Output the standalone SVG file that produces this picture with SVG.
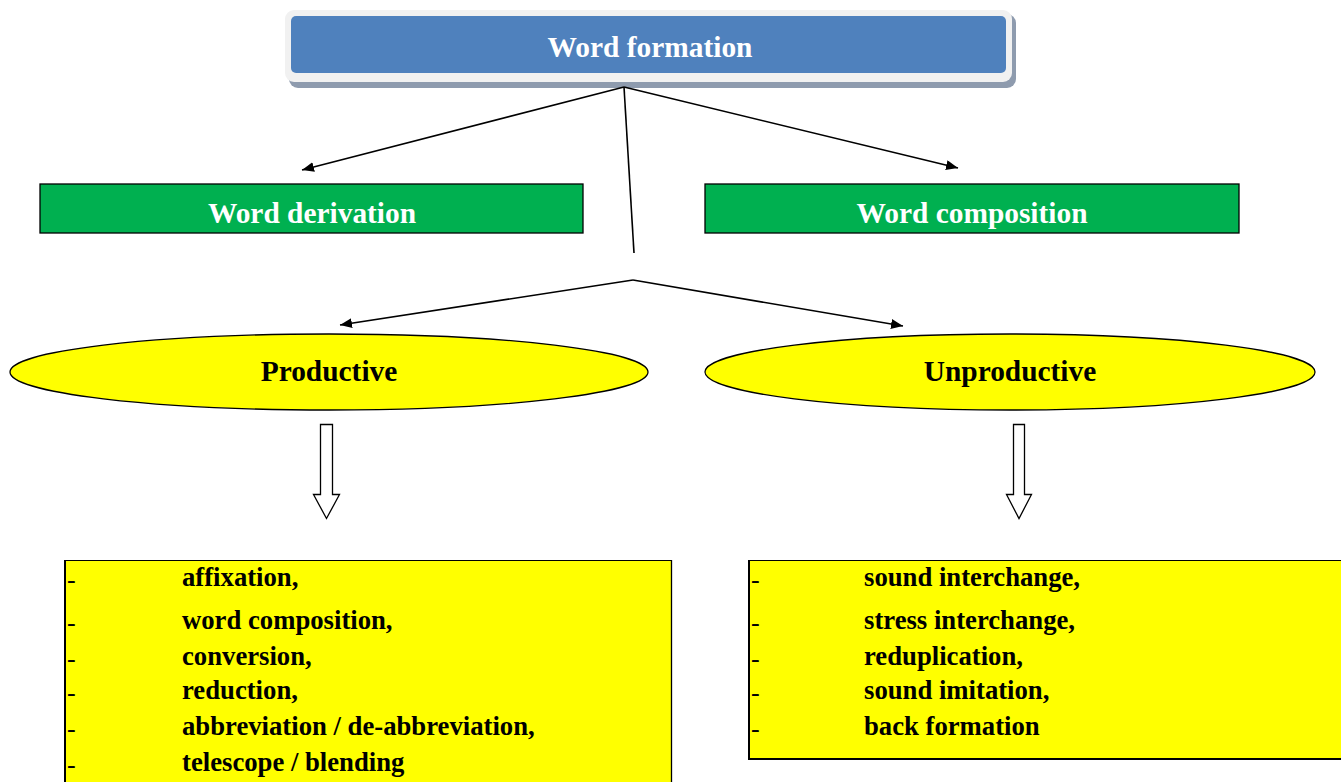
<svg xmlns="http://www.w3.org/2000/svg" width="1341" height="782" viewBox="0 0 1341 782">
<style>
.hdr{font-family:"Liberation Serif","Times New Roman",serif;font-weight:bold;font-size:29.4px;text-anchor:middle}
.wt{fill:#fff}
.li{font-family:"Liberation Serif","Times New Roman",serif;font-weight:bold;font-size:26.7px;fill:#000}
.dash{font-family:"Liberation Serif","Times New Roman",serif;font-size:26px;fill:#000}
.ln{stroke:#000;stroke-width:1.6;fill:none}
.green{fill:#00B050;stroke:#000;stroke-width:1.3}
.ell{fill:#FFFF00;stroke:#000;stroke-width:1.3}
.list{fill:#FFFF00}
</style>
<defs>
<marker id="ah" viewBox="0 0 12 10" refX="12" refY="5" markerWidth="12" markerHeight="10" markerUnits="userSpaceOnUse" orient="auto">
<path d="M0,0 L12,5 L0,10 z" fill="#000"/>
</marker>
</defs>
<rect width="1341" height="782" fill="#fff"/>
<g id="n-formation">
<rect x="289" y="14" width="727" height="74" rx="9" fill="#8E9BAE"/>
<rect x="285" y="10" width="727" height="72" rx="9" fill="#F1F1F1"/>
<rect x="291" y="16" width="715" height="57" rx="5" fill="#4F81BD"/>
<text class="hdr wt" x="650" y="57">Word formation</text>
</g>
<g id="n-derivation">
<rect class="green" x="40" y="184" width="543" height="49"/>
<text class="hdr wt" x="312" y="223">Word derivation</text>
</g>
<g id="n-composition">
<rect class="green" x="705" y="184" width="534" height="49"/>
<text class="hdr wt" x="972" y="223">Word composition</text>
</g>
<g id="n-productive">
<ellipse class="ell" cx="329" cy="372" rx="319" ry="38"/>
<text class="hdr" x="329" y="381">Productive</text>
</g>
<g id="n-unproductive">
<ellipse class="ell" cx="1010" cy="372" rx="305" ry="38"/>
<text class="hdr" x="1010" y="381">Unproductive</text>
</g>
<g id="connectors">
<line class="ln" x1="624" y1="87" x2="302" y2="170" marker-end="url(#ah)"/>
<line class="ln" x1="624" y1="87" x2="958" y2="168" marker-end="url(#ah)"/>
<line class="ln" x1="624" y1="87" x2="634" y2="253"/>
<line class="ln" x1="633" y1="280" x2="340" y2="325" marker-end="url(#ah)"/>
<line class="ln" x1="633" y1="280" x2="903" y2="326" marker-end="url(#ah)"/>
<path d="M320.5,424.5 H332.5 V494.5 H339.5 L326.5,518.5 L313.5,494.5 H320.5 Z" fill="#fff" stroke="#000" stroke-width="1.3"/>
<path d="M1013.5,424.5 H1024.5 V494.5 H1031.5 L1019,518.5 L1006.5,494.5 H1013.5 Z" fill="#fff" stroke="#000" stroke-width="1.3"/>
</g>
<g id="n-productive-list">
<rect class="list" x="64" y="560" width="608" height="222"/>
<line x1="64" y1="560.5" x2="672" y2="560.5" stroke="#000" stroke-width="1"/>
<line x1="65" y1="560" x2="65" y2="782" stroke="#000" stroke-width="2"/>
<line x1="671.5" y1="560" x2="671.5" y2="782" stroke="#000" stroke-width="1.3"/>
<text class="dash" x="67" y="588">-</text>
<text class="dash" x="67" y="631">-</text>
<text class="dash" x="67" y="667">-</text>
<text class="dash" x="67" y="701">-</text>
<text class="dash" x="67" y="737">-</text>
<text class="dash" x="67" y="773">-</text>
<text class="li" x="182" y="586">affixation,</text>
<text class="li" x="182" y="629">word composition,</text>
<text class="li" x="182" y="665">conversion,</text>
<text class="li" x="182" y="699">reduction,</text>
<text class="li" x="182" y="735">abbreviation / de-abbreviation,</text>
<text class="li" x="182" y="771">telescope / blending</text>
</g>
<g id="n-unproductive-list">
<rect class="list" x="748" y="560" width="593" height="199"/>
<line x1="748" y1="560.5" x2="1341" y2="560.5" stroke="#000" stroke-width="1"/>
<line x1="749" y1="560" x2="749" y2="760" stroke="#000" stroke-width="2"/>
<line x1="748" y1="759" x2="1341" y2="759" stroke="#000" stroke-width="2"/>
<text class="dash" x="751" y="588">-</text>
<text class="dash" x="751" y="631">-</text>
<text class="dash" x="751" y="667">-</text>
<text class="dash" x="751" y="701">-</text>
<text class="dash" x="751" y="737">-</text>
<text class="li" x="864" y="586">sound interchange,</text>
<text class="li" x="864" y="629">stress interchange,</text>
<text class="li" x="864" y="665">reduplication,</text>
<text class="li" x="864" y="699">sound imitation,</text>
<text class="li" x="864" y="735">back formation</text>
</g>
</svg>
